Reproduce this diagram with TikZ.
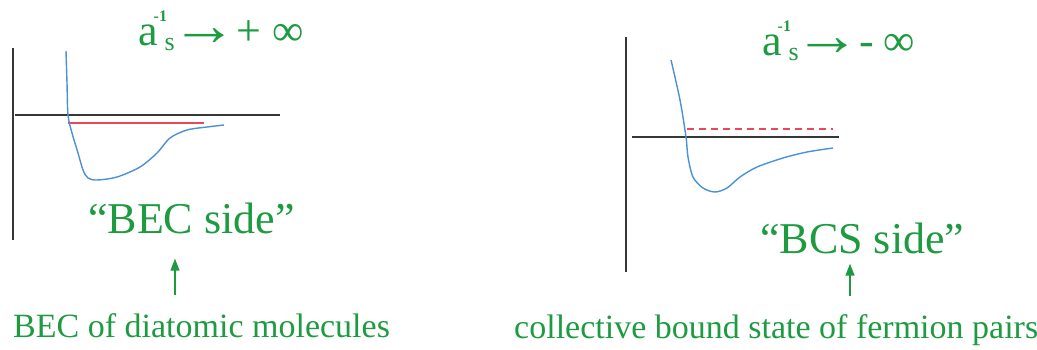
\documentclass[tikz,border=0pt]{standalone}
\usepackage{fontspec}
\setmainfont{Liberation Serif}
\usetikzlibrary{arrows.meta, positioning}
\definecolor{labelgreen}{RGB}{30,155,65}
\definecolor{curveblue}{RGB}{75,145,215}
\definecolor{levelred}{RGB}{235,70,90}
\definecolor{axisgray}{RGB}{55,55,55}
% piece of a limit label, placed at an offset from the label's left end
\newcommand{\limpart}[3]{\makebox[0pt][l]{\hspace{#1pt}\raisebox{#2pt}{#3}}}
\begin{document}
\begin{tikzpicture}[
    x=1pt, y=-1pt,
    axis/.style={draw=axisgray, line width=1.3pt},
    potential/.style={draw=curveblue, line width=1.4pt, smooth},
    level/.style={draw=levelred, line width=1.2pt},
    side/.style={font=\fontsize{44}{48}\selectfont, color=labelgreen, anchor=base west, inner sep=0pt},
    state/.style={font=\fontsize{34}{38}\selectfont, color=labelgreen, anchor=base west, inner sep=0pt},
    limit/.style={font=\fontsize{44}{48}\selectfont, color=labelgreen, anchor=base west, inner sep=0pt},
    arrow/.style={-{Triangle[length=12pt, width=9pt]}, line width=1.3pt, color=labelgreen},
]
\useasboundingbox (0,0) rectangle (1037,349);

% BEC panel
\draw[axis] (13,48) -- (13,240);
\draw[axis] (15,115) -- (280,115);
\draw[level] (68,123) -- (204,123);
\draw[potential] plot coordinates {(66,51) (67,83) (68,115) (72,133) (78,153) (83,170) (88,178) (97,180) (117,177) (140,167) (157,153) (170,138) (187,130) (207,127) (224,125)};

% BCS panel
\draw[axis] (626,37) -- (626,272);
\draw[axis] (632,137) -- (839,137);
\draw[level, dash pattern=on 7pt off 5pt] (687,129) -- (833,129);
\draw[potential] plot coordinates {(671,60) (680,100) (686,137) (688,157) (693,177) (703,188) (715,192) (727,188) (740,177) (757,167) (783,158) (807,152) (833,148)};

% Limits
\node[limit] (bec lim) at (138,45) {\limpart{0}{0}{a}\limpart{26}{-5}{\fontsize{26}{26}\selectfont s}\limpart{15}{24}{\fontsize{16}{16}\selectfont\bfseries -1}\limpart{33}{0}{\scalebox{1.5}[1.35]{→}}\limpart{98}{0}{+}\limpart{134}{0}{∞}};
\node[limit] (bcs lim) at (762,55) {\limpart{0}{0}{a}\limpart{26}{-5}{\fontsize{26}{26}\selectfont s}\limpart{15}{24}{\fontsize{16}{16}\selectfont\bfseries -1}\limpart{32}{0}{\scalebox{1.5}[1.35]{→}}\limpart{97}{0}{-}\limpart{121}{0}{∞}};

% Side labels
\node[side] (bec side) at (88,233) {“BEC side”};
\node[side] (bcs side) at (760,253) {“BCS side”};

% States
\node[state] (bec state) at (13,337) {BEC of diatomic molecules};
\node[state] (bcs state) at (514,338) {collective bound state of fermion pairs};

% Arrows
\coordinate (bec x) at (175,0);
\coordinate (bcs x) at (850,0);
\draw[arrow, shorten <=18pt, shorten >=25pt] (bec state.north -| bec x) -- (bec side.south -| bec x);
\draw[arrow, shorten <=18pt, shorten >=10pt] (bcs state.north -| bcs x) -- (bcs side.south -| bcs x);

\end{tikzpicture}
\end{document}
